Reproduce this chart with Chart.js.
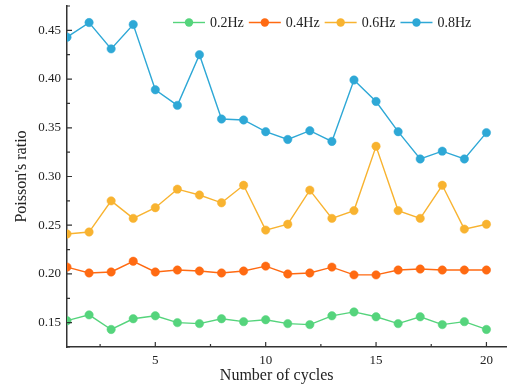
<!DOCTYPE html>
<html>
<head>
  <style>
    body { margin: 0; padding: 0; background: #fff; }
    #wrap { width: 511px; height: 385px; }
  </style>
  <script src="https://cdn.jsdelivr.net/npm/chart.js"></script>
</head>
<body>
  <div id="wrap"><canvas id="chart" width="511" height="385"></canvas></div>
  <script>
    // data
    const cycles = [1, 2, 3, 4, 5, 6, 7, 8, 9, 10, 11, 12, 13, 14, 15, 16, 17, 18, 19, 20];
    const hz02 = [0.152, 0.158, 0.143, 0.154, 0.157, 0.150, 0.149, 0.154, 0.151, 0.153, 0.149, 0.148, 0.157, 0.161, 0.156, 0.149, 0.156, 0.148, 0.151, 0.143];
    const hz04 = [0.207, 0.201, 0.202, 0.213, 0.202, 0.204, 0.203, 0.201, 0.203, 0.208, 0.200, 0.201, 0.207, 0.199, 0.199, 0.204, 0.205, 0.204, 0.204, 0.204];
    const hz06 = [0.241, 0.243, 0.275, 0.257, 0.268, 0.287, 0.281, 0.273, 0.291, 0.245, 0.251, 0.286, 0.257, 0.265, 0.331, 0.265, 0.257, 0.291, 0.246, 0.251];
    const hz08 = [0.443, 0.458, 0.431, 0.456, 0.389, 0.373, 0.425, 0.359, 0.358, 0.346, 0.338, 0.347, 0.336, 0.399, 0.377, 0.346, 0.318, 0.326, 0.318, 0.345];
    const seriesNames = ["0.2Hz", "0.4Hz", "0.6Hz", "0.8Hz"];
    const seriesColors = ["#55d47c", "#ff6a12", "#f8b330", "#2ea8d6"];
    const xTicks = [5, 10, 15, 20];
    const xMinorTicks = [2.5, 7.5, 12.5, 17.5];
    const yTicks = [0.15, 0.20, 0.25, 0.30, 0.35, 0.40, 0.45];
    const yMinorTicks = [0.125, 0.175, 0.225, 0.275, 0.325, 0.375, 0.425, 0.475];

    const serif = "'Liberation Serif', 'Times New Roman', serif";
    const axisColor = "#333";

    function makeDataset(i, values) {
      return {
        label: seriesNames[i],
        data: cycles.map((c, k) => ({ x: c, y: values[k] })),
        borderColor: seriesColors[i],
        backgroundColor: seriesColors[i],
        pointBackgroundColor: seriesColors[i],
        pointBorderColor: seriesColors[i],
        borderWidth: 1.4,
        pointRadius: 4.2,
        pointBorderWidth: 0.5,
        tension: 0
      };
    }

    // inward ticks, x title and the in-plot legend
    const overlay = {
      id: "overlay",
      afterDraw(chart) {
        const ctx = chart.ctx;
        const xs = chart.scales.x, ys = chart.scales.y;
        const area = chart.chartArea;
        ctx.save();
        ctx.strokeStyle = axisColor;
        ctx.lineWidth = 1.2;
        ctx.beginPath();
        xTicks.forEach(v => { const px = xs.getPixelForValue(v); ctx.moveTo(px, area.bottom); ctx.lineTo(px, area.bottom - 5); });
        xMinorTicks.forEach(v => { const px = xs.getPixelForValue(v); ctx.moveTo(px, area.bottom); ctx.lineTo(px, area.bottom - 3); });
        yTicks.forEach(v => { const py = ys.getPixelForValue(v); ctx.moveTo(area.left, py); ctx.lineTo(area.left + 5, py); });
        yMinorTicks.forEach(v => { const py = ys.getPixelForValue(v); ctx.moveTo(area.left, py); ctx.lineTo(area.left + 3, py); });
        ctx.stroke();

        // x axis title, centred on the data span
        ctx.fillStyle = "#222";
        ctx.font = "16px " + serif;
        ctx.textAlign = "center";
        ctx.textBaseline = "middle";
        const midX = xs.getPixelForValue((cycles[0] + cycles[cycles.length - 1]) / 2);
        ctx.fillText("Number of cycles", midX, 376);

        // legend
        ctx.font = "14px " + serif;
        ctx.textAlign = "left";
        let lx = 173;
        const ly = 22.5;
        seriesNames.forEach((name, i) => {
          ctx.strokeStyle = seriesColors[i];
          ctx.fillStyle = seriesColors[i];
          ctx.lineWidth = 1.4;
          ctx.beginPath();
          ctx.moveTo(lx, ly);
          ctx.lineTo(lx + 32, ly);
          ctx.stroke();
          ctx.beginPath();
          ctx.arc(lx + 16, ly, 4.2, 0, Math.PI * 2);
          ctx.fill();
          ctx.fillStyle = "#222";
          ctx.fillText(name, lx + 37, ly + 0.5);
          lx += 37 + ctx.measureText(name).width + 5;
        });
        ctx.restore();
      }
    };

    const ctx = document.getElementById("chart").getContext("2d");
    const chart = new Chart(ctx, {
      type: "line",
      data: {
        datasets: [
          makeDataset(0, hz02),
          makeDataset(1, hz04),
          makeDataset(2, hz06),
          makeDataset(3, hz08)
        ]
      },
      options: {
        responsive: false,
        animation: false,
        layout: { padding: { top: 6, right: 3, left: 0, bottom: 0 } },
        scales: {
          x: {
            type: "linear",
            min: 1,
            max: 20.9,
            afterBuildTicks: function (scale) { scale.ticks = xTicks.map(v => ({ value: v })); },
            afterFit: function (scale) { scale.height = 38; scale.paddingLeft = 0; scale.paddingRight = 0; },
            grid: { display: false, drawTicks: false },
            border: { display: true, color: axisColor, width: 1.5 },
            ticks: { color: "#222", padding: 6, font: { family: serif, size: 13 } }
          },
          y: {
            type: "linear",
            min: 0.125,
            max: 0.475,
            afterBuildTicks: function (scale) { scale.ticks = yTicks.map(v => ({ value: v })); },
            afterFit: function (scale) { scale.width = 67; scale.paddingTop = 0; scale.paddingBottom = 0; },
            grid: { display: false, drawTicks: false },
            border: { display: true, color: axisColor, width: 1.5 },
            ticks: {
              color: "#222",
              padding: 6,
              font: { family: serif, size: 13 },
              callback: function (value) { return value.toFixed(2); }
            },
            title: {
              display: true,
              text: "Poisson's ratio",
              color: "#222",
              font: { family: serif, size: 16 },
              padding: { top: 12, bottom: 0 }
            }
          }
        },
        plugins: {
          legend: { display: false },
          tooltip: { enabled: false }
        }
      },
      plugins: [overlay]
    });
  </script>
</body>
</html>
